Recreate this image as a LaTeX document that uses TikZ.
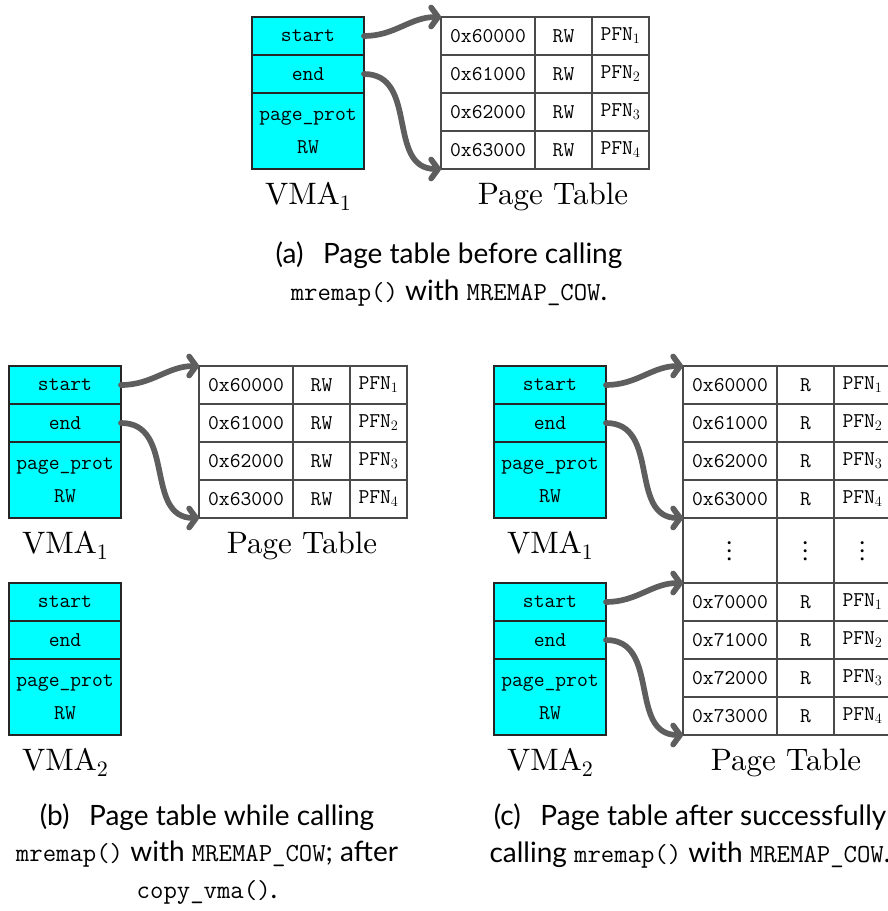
\documentclass[tikz,border=0pt]{standalone}
\usepackage{fontspec}
\newfontfamily\capfont{Lato}
\newfontfamily\lmten{lmroman10-regular.otf}
\newfontfamily\lmmath{latinmodern-math.otf}
\usetikzlibrary{arrows.meta}

\definecolor{vmafill}{HTML}{00FFFF}
\definecolor{ptrgray}{HTML}{5E5E5E}
\definecolor{gridgray}{HTML}{4A4A4A}

\tikzset{
  x=1pt, y=-1pt,
  field/.style={draw=black!85, fill=vmafill, line width=1.3pt, outer sep=0pt,
    minimum width=112pt, minimum height=38pt, inner sep=0pt, align=center,
    font=\fontsize{21}{33}\selectfont\ttfamily},
  cell/.style={draw=gridgray, line width=1.3pt, outer sep=0pt,
    minimum height=38pt, inner sep=0pt,
    font=\fontsize{21}{25}\selectfont\ttfamily},
  gapcell/.style={cell, minimum height=65pt, text depth=0pt,
    font=\lmmath\fontsize{29}{30}\selectfont},
  ptr/.style={draw=ptrgray, line width=5.7pt, line cap=round,
    -{Straight Barb[length=7pt,width=19pt,line cap=round,line join=round]},
    out=0, in=180},
  vmalabel/.style={font=\lmten\fontsize{31}{36}\selectfont, anchor=base, inner sep=0pt},
  capt/.style={font=\capfont\fontsize{28}{36.5}\selectfont, align=center,
    anchor=base, inner sep=0pt},
}

% caption monospace
\newcommand\cmono[1]{{\fontsize{26}{36.5}\selectfont\ttfamily #1}}
% subscript of the VMA labels
\newcommand\lsub[1]{\raisebox{-6.5pt}{\fontsize{22}{22}\selectfont #1}}

% a VMA structure: name, x, y, subscript
\newcommand\vmastruct[4]{%
  \node[field, anchor=north west] (#1-start) at (#2,#3) {start};
  \node[field, anchor=north] (#1-end) at (#1-start.south) {end};
  \node[field, anchor=north, minimum height=76pt] (#1-prot) at (#1-end.south) {page\_prot\\RW};
  \node[vmalabel] (#1-label) at ([yshift=-35pt]#1-prot.south) {VMA\lsub{#4}};
}

% one page table entry: name, x, y, address, permission, pfn index
\newcommand\ptentry[6]{%
  \node[cell, anchor=north west, minimum width=94pt] (#1-a) at (#2,#3) {#4};
  \node[cell, anchor=west, minimum width=57pt] (#1-p) at (#1-a.east) {#5};
  \node[cell, anchor=west, minimum width=57pt] (#1-f) at (#1-p.east) {PFN$_{#6}$};
}

\begin{document}
\begin{tikzpicture}
\useasboundingbox (0,0) rectangle (888,911);

% ---------- (a) ----------
\vmastruct{a1}{252}{17}{1}
\ptentry{ar1}{441}{17}{0x60000}{RW}{1}
\ptentry{ar2}{441}{55}{0x61000}{RW}{2}
\ptentry{ar3}{441}{93}{0x62000}{RW}{3}
\ptentry{ar4}{441}{131}{0x63000}{RW}{4}
\node[vmalabel] (aptl) at (553,204) {Page Table};
\draw[ptr] (a1-start.east) to (ar1-a.north west);
\draw[ptr, looseness=1.15] (a1-end.east) to (ar4-a.south west);
\node[capt] (capa) at (449,300) {(a)\hskip0.7em Page table before calling\\
  \cmono{mremap()} with \cmono{MREMAP\_COW}.};

% ---------- (b) ----------
\vmastruct{b1}{9}{366}{1}
\vmastruct{b2}{9}{583}{2}
\ptentry{br1}{199}{366}{0x60000}{RW}{1}
\ptentry{br2}{199}{404}{0x61000}{RW}{2}
\ptentry{br3}{199}{442}{0x62000}{RW}{3}
\ptentry{br4}{199}{480}{0x63000}{RW}{4}
\node[vmalabel] (bptl) at (302,553) {Page Table};
\draw[ptr] (b1-start.east) to (br1-a.north west);
\draw[ptr, looseness=1.15] (b1-end.east) to (br4-a.south west);
\node[capt] (capb) at (207,898) {(b)\hskip0.7em Page table while calling\\
  \cmono{mremap()} with \cmono{MREMAP\_COW}; after\\ \cmono{copy\_vma()}.};

% ---------- (c) ----------
\vmastruct{c1}{494}{366}{1}
\vmastruct{c2}{494}{583}{2}
\ptentry{cr1}{683}{366}{0x60000}{R}{1}
\ptentry{cr2}{683}{404}{0x61000}{R}{2}
\ptentry{cr3}{683}{442}{0x62000}{R}{3}
\ptentry{cr4}{683}{480}{0x63000}{R}{4}
\node[gapcell, anchor=north west, minimum width=94pt] (cgap-a) at (683,518) {⋮};
\node[gapcell, anchor=west, minimum width=57pt] (cgap-p) at (cgap-a.east) {⋮};
\node[gapcell, anchor=west, minimum width=57pt] (cgap-f) at (cgap-p.east) {⋮};
\ptentry{cr5}{683}{583}{0x70000}{R}{1}
\ptentry{cr6}{683}{621}{0x71000}{R}{2}
\ptentry{cr7}{683}{659}{0x72000}{R}{3}
\ptentry{cr8}{683}{697}{0x73000}{R}{4}
\node[vmalabel] (cptl) at (786,770) {Page Table};
\draw[ptr] (c1-start.east) to (cr1-a.north west);
\draw[ptr, looseness=1.15] (c1-end.east) to (cr4-a.south west);
\draw[ptr] (c2-start.east) to (cr5-a.north west);
\draw[ptr, looseness=1.15] (c2-end.east) to (cr8-a.south west);
\node[capt] (capc) at (690,862) {(c)\hskip0.7em Page table after successfully\\
  calling \cmono{mremap()} with \cmono{MREMAP\_COW}.};
\end{tikzpicture}
\end{document}
